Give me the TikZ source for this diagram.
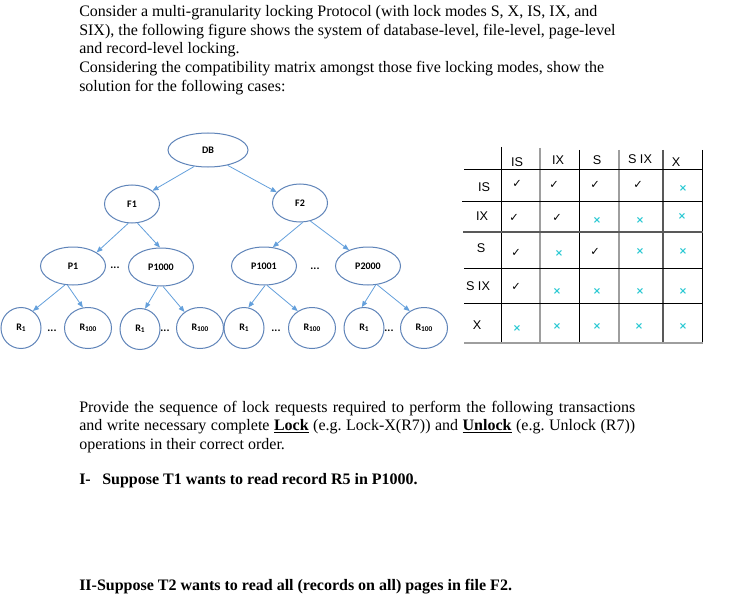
\documentclass[tikz,border=0pt]{standalone}
\usepackage{fontspec}
\setmainfont{Liberation Serif}
\newfontfamily\nodefont{Carlito}
\newfontfamily\tabfont{Liberation Sans}
\newfontfamily\symfont{DejaVu Sans}
\usetikzlibrary{shapes.geometric,arrows.meta}
\definecolor{ellcol}{RGB}{95,132,185}
\definecolor{arrcol}{RGB}{100,160,220}
\definecolor{xcol}{RGB}{38,200,210}
\newcommand\Rsub[1]{R\raisebox{-0.25ex}{\fontsize{5.5}{5.5}\selectfont #1}}
\frenchspacing
\begin{document}
\begin{tikzpicture}[x=0.75pt,y=-0.75pt,
 txt/.style={anchor=base west,inner sep=0pt,font=\fontsize{12}{14}\selectfont},
 btxt/.style={anchor=base west,inner sep=0pt,font=\fontsize{12}{14}\selectfont\bfseries},
 ell/.style={ellipse,draw=ellcol,line width=0.75pt,inner sep=0pt,font=\nodefont\bfseries\fontsize{7.5}{8}\selectfont},
 dbell/.style={ell,minimum width=60pt,minimum height=25.5pt},
 fell/.style={ell,minimum width=41.25pt,minimum height=28.5pt},
 pell/.style={ell,minimum width=48.75pt,minimum height=28.5pt},
 rone/.style={ell,minimum width=30pt,minimum height=30.75pt},
 rhun/.style={ell,minimum width=35.25pt,minimum height=30.75pt},
 dots/.style={inner sep=0pt,font=\nodefont\bfseries\fontsize{8.5}{9}\selectfont},
 arr/.style={draw=arrcol,line width=0.6pt,-{Triangle[length=4.5pt,width=3.6pt]}},
 hd/.style={inner sep=0pt,font=\tabfont\fontsize{9.5}{10}\selectfont},
 ok/.style={inner sep=0pt,font=\symfont\bfseries\fontsize{8.5}{8.5}\selectfont},
 no/.style={inner sep=0pt,text=xcol,font=\symfont\bfseries\fontsize{7.5}{7.5}\selectfont},
 blk/.style={draw=black,line width=0.75pt},
 gry/.style={draw=black!38,line width=1.1pt},
 dgry/.style={draw=black!65,line width=0.9pt}]
\fill[white] (0,0) rectangle (745,606);
\useasboundingbox (0,0) rectangle (745,606);

% paragraph 1
\node[txt] (t1) at (79,16.5) {Consider a multi-granularity locking Protocol (with lock modes S, X, IS, IX, and};
\node[txt] (t2) at (79,35.2) {SIX), the following figure shows the system of database-level, file-level, page-level};
\node[txt] (t3) at (79,53.8) {and record-level locking.};
\node[txt] (t4) at (79,72.5) {Considering the compatibility matrix amongst those five locking modes, show the};
\node[txt] (t5) at (79,91.2) {solution for the following cases:};

% paragraph 2
\node[txt] (u1) at (79,412) {\hbox to 417pt{Provide the sequence of lock requests required to perform the following transactions}};
\node[txt] (u2) at (79,430.7) {\hbox to 417pt{and write necessary complete \underline{\textbf{Lock}} (e.g. Lock-X(R7)) and \underline{\textbf{Unlock}} (e.g. Unlock (R7))}};
\node[txt] (u3) at (79,449.4) {operations in their correct order.};
\node[btxt] (q1) at (79,484) {\makebox[17.25pt][l]{I-}Suppose T1 wants to read record R5 in P1000.};
\node[btxt] (q2) at (79,590) {II-Suppose T2 wants to read all (records on all) pages in file F2.};

% tree
\node[dbell] (DB) at (208,150) {DB};
\node[fell] (F1) at (132,204) {F1};
\node[fell] (F2) at (300,203) {F2};
\node[pell] (P1) at (73,266) {P1};
\node[pell] (P1000) at (161,267) {P1000};
\node[pell] (P1001) at (264,266) {P1001};
\node[pell] (P2000) at (368,266) {P2000};
\node[dots] (dp1) at (115,268) {...};
\node[dots] (dp2) at (315,269) {...};
\node[rone] (Ra1) at (21,328) {\Rsub{1}};
\node[rhun] (Ra2) at (88,328) {\Rsub{100}};
\node[rone] (Rb1) at (140,329) {\Rsub{1}};
\node[rhun] (Rb2) at (200,328) {\Rsub{100}};
\node[rone] (Rc1) at (244,328) {\Rsub{1}};
\node[rhun] (Rc2) at (312,328) {\Rsub{100}};
\node[rone] (Rd1) at (364,328) {\Rsub{1}};
\node[rhun] (Rd2) at (424,328) {\Rsub{100}};
\node[dots] (dr1) at (52,331) {...};
\node[dots] (dr2) at (165,331) {...};
\node[dots] (dr3) at (276,331) {...};
\node[dots] (dr4) at (389,331) {...};

\draw[arr] (DB.230) -- (F1.33);
\draw[arr] (DB.322) -- (F2.155);
\draw[arr] (F1.259) -- (P1.30);
\draw[arr] (F1.286) -- (P1000.93);
\draw[arr] (F2.278) -- (P1001.65);
\draw[arr] (F2.300) -- (P2000.140);
\draw[arr] (P1.247) -- (Ra1.55);
\draw[arr] (P1.254) -- (Ra2.104);
\draw[arr] (P1000.262) -- (Rb1.76);
\draw[arr] (P1000.276) -- (Rb2.134);
\draw[arr] (P1001.273) -- (Rc1.78);
\draw[arr] (P1001.279) -- (Rc2.130);
\draw[arr] (P2000.292) -- (Rd1.96);
\draw[arr] (P2000.296) -- (Rd2.130);

% compatibility matrix grid
\draw[blk] (501,147) -- (501,343);
\draw[gry] (540,148) -- (540,343);
\draw[blk] (579,150) -- (579,343);
\draw[gry] (619,150) -- (619,343);
\draw[dgry] (663,150) -- (663,343);
\draw[blk] (702,150) -- (702,343);
\draw[blk] (464,169) -- (703,169);
\draw[blk] (462,201) -- (703,201);
\draw[dgry] (463,232) -- (703,232);
\draw[blk] (464,268) -- (703,268);
\draw[blk] (464,303) -- (703,303);
\draw[gry] (464,343) -- (703,343);

% headers
\node[hd] (hIS) at (517,162) {IS};
\node[hd] (hIX) at (558,160) {IX};
\node[hd] (hS) at (597,160) {S};
\node[hd] (hSIX) at (640,159) {S IX};
\node[hd] (hX) at (676,162) {X};
\node[hd] (rIS) at (484,187) {IS};
\node[hd] (rIX) at (482,216) {IX};
\node[hd] (rS) at (481,248) {S};
\node[hd] (rSIX) at (478,286) {S IX};
\node[hd] (rX) at (477,325) {X};

% row IS
\node[ok] (c11) at (517,184) {✓};
\node[ok] (c12) at (554,185) {✓};
\node[ok] (c13) at (595,185) {✓};
\node[ok] (c14) at (638,185) {✓};
\node[no] (c15) at (683,188) {×};
% row IX
\node[ok] (c21) at (514,218) {✓};
\node[ok] (c22) at (557,218) {✓};
\node[no] (c23) at (597,220) {×};
\node[no] (c24) at (640,220) {×};
\node[no] (c25) at (682,216) {×};
% row S
\node[ok] (c31) at (516,253) {✓};
\node[no] (c32) at (559,253) {×};
\node[ok] (c33) at (595,252) {✓};
\node[no] (c34) at (640,251) {×};
\node[no] (c35) at (683,251) {×};
% row SIX
\node[ok] (c41) at (516,287) {✓};
\node[no] (c42) at (557,291) {×};
\node[no] (c43) at (597,291) {×};
\node[no] (c44) at (640,291) {×};
\node[no] (c45) at (683,291) {×};
% row X
\node[no] (c51) at (517,328) {×};
\node[no] (c52) at (557,326) {×};
\node[no] (c53) at (597,326) {×};
\node[no] (c54) at (639,326) {×};
\node[no] (c55) at (683,326) {×};
\end{tikzpicture}
\end{document}
